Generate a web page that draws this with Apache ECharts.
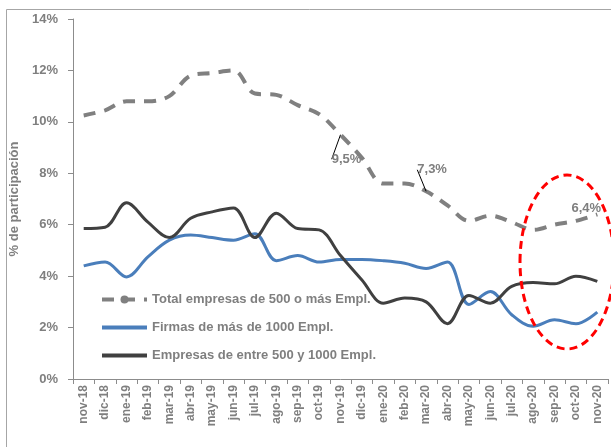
<!DOCTYPE html>
<html>
<head>
<meta charset="utf-8">
<script src="https://cdn.jsdelivr.net/npm/echarts@6/dist/echarts.min.js"></script>
<style>
  html, body { margin: 0; padding: 0; background: #fff; }
  #chart { width: 611px; height: 447px; }
</style>
</head>
<body>
<div id="chart"></div>
<script>
var months = ['nov-18', 'dic-18', 'ene-19', 'feb-19', 'mar-19', 'abr-19', 'may-19', 'jun-19', 'jul-19',
  'ago-19', 'sep-19', 'oct-19', 'nov-19', 'dic-19', 'ene-20', 'feb-20', 'mar-20', 'abr-20', 'may-20',
  'jun-20', 'jul-20', 'ago-20', 'sep-20', 'oct-20', 'nov-20']

// % de participación
var total = [10.25, 10.45, 10.8, 10.8, 11.0, 11.8, 11.9, 12.0, 11.1, 11.05, 10.65, 10.3, 9.5,
  8.6, 7.6, 7.6, 7.3, 6.75, 6.15, 6.35, 6.1, 5.8, 6.0, 6.15, 6.4]
var masDe1000 = [4.4, 4.55, 3.97, 4.75, 5.4, 5.6, 5.5, 5.4, 5.65, 4.6, 4.8, 4.55, 4.65,
  4.65, 4.6, 4.5, 4.3, 4.55, 2.9, 3.4, 2.5, 2.05, 2.3, 2.15, 2.6]
var entre500y1000 = [5.85, 5.9, 6.85, 6.1, 5.5, 6.25, 6.5, 6.65, 5.5, 6.45, 5.85, 5.8, 4.8,
  3.85, 2.95, 3.15, 3.0, 2.15, 3.25, 2.95, 3.6, 3.75, 3.7, 4.0, 3.8]

// puntos con etiqueta en la serie total
var etiquetas = { 12: '9,5%', 16: '7,3%', 24: '6,4%' }
var conLinea = { 12: true, 16: true }

var gris = '#7f7f7f'
var fuente = 'Liberation Sans, Arial, sans-serif'

var totalData = total.map(function(v, i) {
  if (etiquetas[i]) {
    return {
      value: v,
      label: {
        show: true,
        formatter: etiquetas[i],
        color: gris,
        fontWeight: 'bold',
        fontSize: 13,
        fontFamily: fuente
      },
      labelLine: { show: !!conLinea[i] }
    }
  }
  return v
})

var chart = echarts.init(document.getElementById('chart'))

var option = {
  animation: false,
  textStyle: { fontFamily: fuente },
  grid: {
    left: 72,
    right: 3,
    top: 19,
    bottom: 68
  },
  legend: {
    orient: 'vertical',
    left: 95,
    top: 288,
    itemWidth: 45,
    itemHeight: 10,
    itemGap: 15,
    textStyle: {
      color: gris,
      fontWeight: 'bold',
      fontSize: 13,
      fontFamily: fuente
    },
    data: [
      { name: 'Total empresas de 500 o más Empl.', lineStyle: { width: 4 } },
      { name: 'Firmas de más de 1000 Empl.', itemStyle: { opacity: 0 }, lineStyle: { width: 4 } },
      { name: 'Empresas de entre 500 y 1000 Empl.', itemStyle: { opacity: 0 }, lineStyle: { width: 4 } }
    ]
  },
  xAxis: {
    type: 'category',
    data: months,
    boundaryGap: true,
    axisLine: { lineStyle: { color: '#8c8c8c', width: 1 } },
    axisTick: { show: true, alignWithLabel: false, length: 5, lineStyle: { color: '#8c8c8c' } },
    axisLabel: {
      rotate: 90,
      interval: 0,
      color: gris,
      fontWeight: 'bold',
      fontSize: 12,
      fontFamily: fuente,
      margin: 6
    }
  },
  yAxis: {
    type: 'value',
    min: 0,
    max: 14,
    interval: 2,
    name: '% de participación',
    nameLocation: 'middle',
    nameGap: 52,
    nameTextStyle: {
      color: gris,
      fontWeight: 'bold',
      fontSize: 13,
      fontFamily: fuente
    },
    axisLine: { show: true, lineStyle: { color: '#8c8c8c', width: 1 } },
    axisTick: { show: true, length: 5, lineStyle: { color: '#8c8c8c' } },
    splitLine: { show: false },
    axisLabel: {
      color: gris,
      fontWeight: 'bold',
      fontSize: 13,
      fontFamily: fuente,
      margin: 15,
      formatter: '{value}%'
    }
  },
  series: [
    {
      name: 'Total empresas de 500 o más Empl.',
      type: 'line',
      data: totalData,
      smooth: 0.35,
      symbol: 'circle',
      symbolSize: 0,
      itemStyle: { color: '#808080' },
      lineStyle: { color: '#808080', width: 4, type: [12, 9] },
      labelLine: { show: true, lineStyle: { color: '#000', width: 1 } },
      labelLayout: function(params) {
        if (params.dataIndex === 12) return { dx: 6, dy: 36 }
        if (params.dataIndex === 16) return { dx: 6, dy: -10 }
        if (params.dataIndex === 24) return { dx: -11, dy: 5 }
        return {}
      },
      z: 3
    },
    {
      name: 'Firmas de más de 1000 Empl.',
      type: 'line',
      data: masDe1000,
      smooth: 0.35,
      symbol: 'none',
      itemStyle: { color: '#4a7ebb' },
      lineStyle: { color: '#4a7ebb', width: 3 },
      z: 2
    },
    {
      name: 'Empresas de entre 500 y 1000 Empl.',
      type: 'line',
      data: entre500y1000,
      smooth: 0.35,
      symbol: 'none',
      itemStyle: { color: '#404040' },
      lineStyle: { color: '#404040', width: 3 },
      z: 2
    }
  ],
  graphic: [
    {
      type: 'rect',
      left: 4,
      top: 7,
      shape: { width: 640, height: 470 },
      style: { fill: 'none', stroke: '#a6a6a6', lineWidth: 1 },
      silent: true
    },
    {
      type: 'ellipse',
      shape: { cx: 567, cy: 262, rx: 47, ry: 87 },
      style: { fill: 'none', stroke: '#ff0000', lineWidth: 3, lineDash: [8, 5] },
      silent: true,
      z: 10
    }
  ]
}

chart.setOption(option)
</script>
</body>
</html>
